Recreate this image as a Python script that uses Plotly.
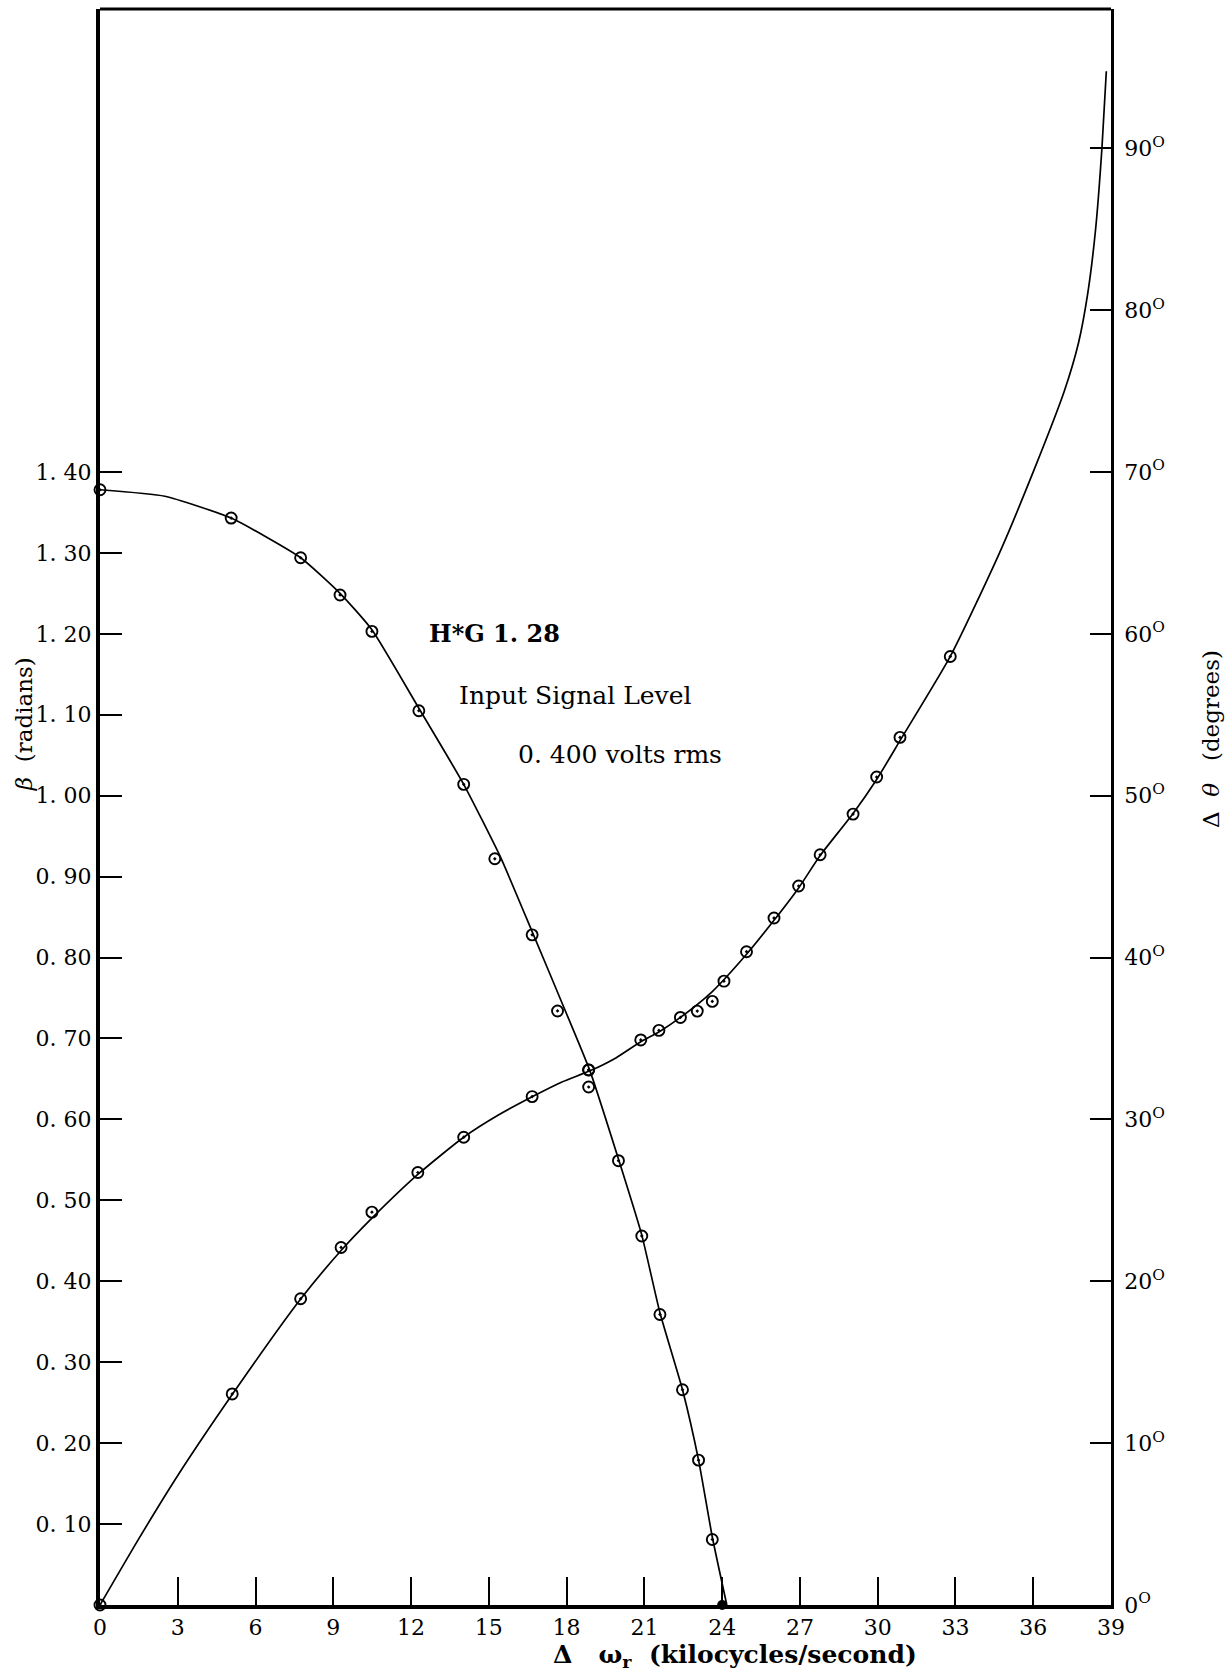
import plotly.graph_objects as go

# ---- measured points: phase angle beta (radians) vs frequency offset ----
beta_x = [0.0, 5.06, 7.74, 9.26, 10.49, 12.30, 14.03, 15.23, 16.67, 17.65,
          18.85, 18.85, 20.0, 20.9, 21.6, 22.47, 23.09, 23.62]
beta_y = [1.378, 1.343, 1.294, 1.248, 1.203, 1.105, 1.014, 0.922, 0.828, 0.734,
          0.661, 0.640, 0.549, 0.456, 0.359, 0.266, 0.179, 0.081]

# zero crossing of beta (solid dot on the axis)
beta_zero_x = [24.0]
beta_zero_y = [0.0]

# faired curve drawn through the beta measurements
beta_fit_x = [0.0, 2.5, 5.06, 7.74, 9.26, 10.49, 12.30, 14.03, 15.45, 16.67,
              17.9, 18.9, 20.0, 20.9, 21.6, 22.47, 23.09, 23.62, 24.18]
beta_fit_y = [1.378, 1.370, 1.343, 1.294, 1.250, 1.205, 1.108, 1.014, 0.924, 0.832,
              0.738, 0.660, 0.551, 0.457, 0.361, 0.266, 0.179, 0.084, 0.0]

# ---- measured points: phase shift delta theta (degrees) ----
theta_x = [0.0, 5.10, 7.74, 9.30, 10.49, 12.26, 14.03, 16.67, 18.85, 20.86,
           21.56, 22.39, 23.04, 23.62, 24.07, 24.94, 26.0, 26.95, 27.78, 29.05,
           29.96, 30.86, 32.8]
theta_y = [0.0, 13.04, 18.92, 22.09, 24.27, 26.72, 28.90, 31.41, 33.06, 34.91,
           35.50, 36.30, 36.69, 37.29, 38.54, 40.36, 42.44, 44.42, 46.35, 48.86,
           51.15, 53.6, 58.6]

# faired curve drawn through the delta-theta measurements
theta_fit_x = [0.0, 1.5, 3.0, 5.1, 7.74, 9.3, 10.49, 12.26, 14.03, 15.4,
               16.67, 17.8, 18.9, 19.9, 20.86, 21.56, 22.39, 23.62, 24.94, 26.0,
               26.95, 27.78, 29.05, 29.96, 30.86, 32.8, 34.7, 36.0, 37.2, 37.75,
               38.1, 38.4, 38.65, 38.82]
theta_fit_y = [0.0, 4.1, 8.0, 13.0, 18.9, 21.9, 23.9, 26.6, 28.9, 30.3,
               31.4, 32.3, 33.0, 33.8, 34.8, 35.4, 36.3, 37.9, 40.2, 42.3,
               44.3, 46.3, 48.9, 51.0, 53.4, 58.6, 65.0, 70.0, 75.0, 78.0,
               81.0, 84.9, 90.0, 94.75]

# ---- axis ticks ----
x_ticks = list(range(0, 40, 3))
beta_ticks = [0.10, 0.20, 0.30, 0.40, 0.50, 0.60, 0.70, 0.80, 0.90, 1.00,
              1.10, 1.20, 1.30, 1.40]
beta_tick_text = ["0. 10", "0. 20", "0. 30", "0. 40", "0. 50", "0. 60", "0. 70",
                  "0. 80", "0. 90", "1. 00", "1. 10", "1. 20", "1. 30", "1. 40"]
theta_ticks = [0, 10, 20, 30, 40, 50, 60, 70, 80, 90]
theta_tick_text = [f"{v}<sup>O</sup>" for v in theta_ticks]

FONT = "DejaVu Serif"
INK = "black"

fig = go.Figure()

fig.add_trace(go.Scatter(
    x=beta_fit_x, y=beta_fit_y, mode="lines", yaxis="y",
    line=dict(color=INK, width=1.7, shape="spline", smoothing=0.5),
    hoverinfo="skip", showlegend=False))
fig.add_trace(go.Scatter(
    x=theta_fit_x, y=theta_fit_y, mode="lines", yaxis="y2",
    line=dict(color=INK, width=1.7, shape="spline", smoothing=0.6),
    hoverinfo="skip", showlegend=False))

marker_style = dict(symbol="circle-open-dot", size=11, color=INK,
                    line=dict(width=1.9, color=INK))
fig.add_trace(go.Scatter(
    x=beta_x, y=beta_y, mode="markers", yaxis="y", marker=marker_style,
    cliponaxis=False, name="beta", showlegend=False))
fig.add_trace(go.Scatter(
    x=theta_x, y=theta_y, mode="markers", yaxis="y2", marker=marker_style,
    cliponaxis=False, name="delta theta", showlegend=False))
fig.add_trace(go.Scatter(
    x=beta_zero_x, y=beta_zero_y, mode="markers", yaxis="y",
    marker=dict(symbol="circle", size=10, color=INK),
    cliponaxis=False, showlegend=False))

tick_font = dict(family=FONT, size=22, color=INK)

fig.update_layout(
    width=1226, height=1676,
    margin=dict(l=100, r=115, t=9, b=71),
    paper_bgcolor="white", plot_bgcolor="white",
    showlegend=False,
    xaxis=dict(
        range=[0, 39], tickmode="array", tickvals=x_ticks,
        ticktext=[str(v) for v in x_ticks],
        ticks="inside", ticklen=28, tickwidth=2, tickcolor=INK,
        showline=True, linewidth=4, linecolor=INK,
        showgrid=False, zeroline=False, tickfont=tick_font,
    ),
    yaxis=dict(
        range=[0, 1.972], tickmode="array", tickvals=beta_ticks,
        ticktext=beta_tick_text,
        ticks="inside", ticklen=22, tickwidth=2, tickcolor=INK,
        showline=True, linewidth=4, linecolor=INK,
        showgrid=False, zeroline=False, tickfont=tick_font,
    ),
    yaxis2=dict(
        overlaying="y", side="right", anchor="x",
        range=[0, 98.6], tickmode="array", tickvals=theta_ticks,
        ticktext=theta_tick_text,
        ticks="inside", ticklen=21, tickwidth=2, tickcolor=INK,
        showline=True, linewidth=2.5, linecolor=INK,
        showgrid=False, zeroline=False, tickfont=tick_font,
        ticklabelstandoff=6,
    ),
    shapes=[dict(type="line", xref="paper", yref="paper",
                 x0=0, x1=1, y0=1, y1=1,
                 line=dict(color=INK, width=3))],
)

NB = "\u00a0"
annotations = [
    # x-axis title
    dict(text=f"<b>\u0394{NB*3}ω<sub>r</sub>{NB*2}(kilocycles/second)</b>",
         xref="paper", yref="paper", x=0.628, y=-0.032,
         xanchor="center", yanchor="middle",
         font=dict(family=FONT, size=25, color=INK)),
    # left y-axis title
    dict(text=f"<i>β</i>{NB*2}(radians)",
         xref="paper", yref="paper", x=-0.075, y=0.552,
         xanchor="center", yanchor="middle", textangle=-90,
         font=dict(family=FONT, size=23, color=INK)),
    # right y-axis title
    dict(text=f"\u0394{NB*2}<i>θ</i>{NB*3}(degrees)",
         xref="paper", yref="paper", x=1.099, y=0.5426,
         xanchor="center", yanchor="middle", textangle=-90,
         font=dict(family=FONT, size=23, color=INK)),
    # test condition notes
    dict(text="<b>H*G 1. 28</b>", xref="paper", yref="paper",
         x=(427 - 100) / 1011, y=(1605 - 633) / 1596,
         xanchor="left", yanchor="middle",
         font=dict(family=FONT, size=24, color=INK)),
    dict(text="Input Signal Level", xref="paper", yref="paper",
         x=(457 - 100) / 1011, y=(1605 - 695) / 1596,
         xanchor="left", yanchor="middle",
         font=dict(family=FONT, size=25, color=INK)),
    dict(text="0. 400 volts rms", xref="paper", yref="paper",
         x=(516 - 100) / 1011, y=(1605 - 755) / 1596,
         xanchor="left", yanchor="middle",
         font=dict(family=FONT, size=25, color=INK)),
]
for a in annotations:
    a.setdefault("showarrow", False)
fig.update_layout(annotations=annotations)

fig.write_html("out.html")
